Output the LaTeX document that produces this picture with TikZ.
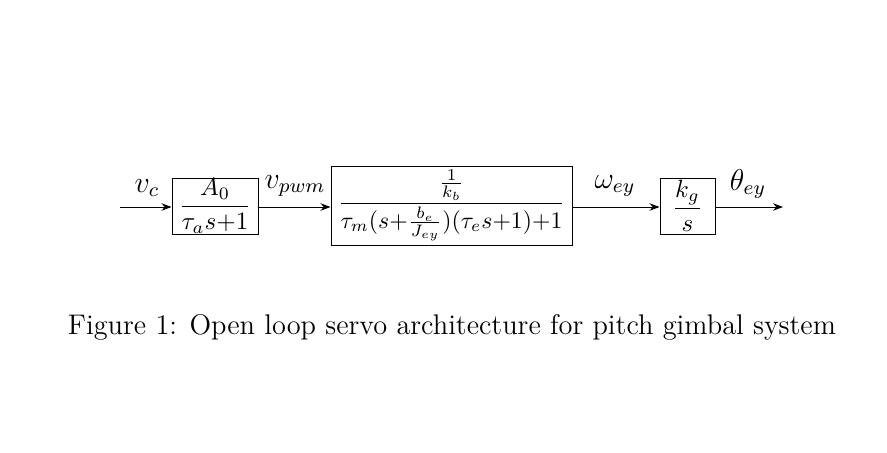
\documentclass[tikz,border=0pt]{standalone}
\usepackage{amsmath}
\usepackage{graphicx}
\usetikzlibrary{arrows.meta}
\begin{document}
\begin{tikzpicture}[x=0.4pt,y=-0.4pt,
  blk/.style={draw,line width=0.4pt,inner sep=0pt,anchor=center},
  sig/.style={-{Stealth[length=4pt,width=3pt]},line width=0.4pt},
  lbl/.style={inner sep=0pt,anchor=center}]
\useasboundingbox (0,0) rectangle (887,453);
\coordinate (in) at (120,207);
\node[blk,minimum width=34.4pt,minimum height=22.4pt] (b1) at (215,206) {$\dfrac{A_0}{\tau_a s{+}1}$};
\node[blk,minimum width=96.4pt,minimum height=31.6pt] (b2) at (451.5,205.5) {\scalebox{0.95}{$\dfrac{\frac{1}{k_b}}{\tau_m(s{+}\frac{b_e}{J_{ey}})(\tau_e s{+}1){+}1}$}};
\node[blk,minimum width=22pt,minimum height=22.4pt] (b3) at (687.5,206) {$\dfrac{k_g}{s}$};
\coordinate (out) at (783,207);
\draw[sig] (in) -- (b1.west |- in);
\draw[sig] (b1.east |- in) -- (b2.west |- in);
\draw[sig] (b2.east |- in) -- (b3.west |- in);
\draw[sig] (b3.east |- in) -- (out);
\node[lbl] (lvc) at (147,188) {\large$v_c$};
\node[lbl] (lvp) at (295,186) {\large$v_{pwm}$};
\node[lbl] (lw) at (615,186) {\large$\omega_{ey}$};
\node[lbl] (lt) at (748,184) {\large$\theta_{ey}$};
\node[lbl] (cap) at (452,327) {\fontsize{11.35}{13.6}\selectfont Figure 1: Open loop servo architecture for pitch gimbal system};
\end{tikzpicture}
\end{document}
